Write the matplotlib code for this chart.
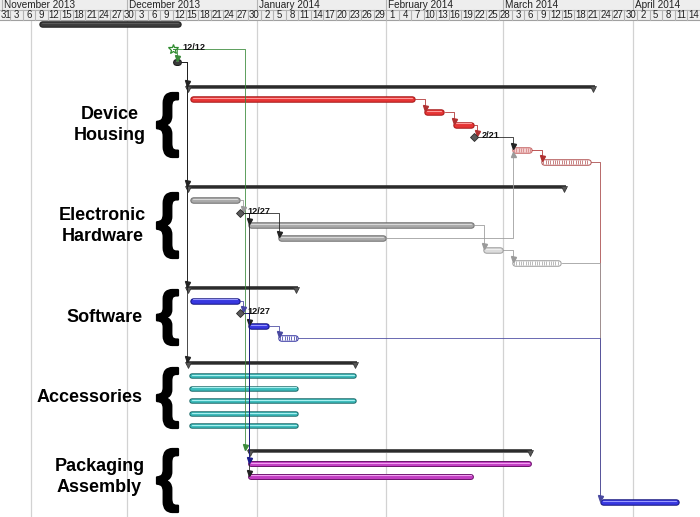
import numpy as np
import matplotlib
matplotlib.use("Agg")
import matplotlib.pyplot as plt
from matplotlib.patches import Rectangle, PathPatch
from matplotlib.textpath import TextPath
from matplotlib.font_manager import FontProperties
from matplotlib.transforms import Affine2D

# ---------------- data ----------------
ORIGIN = "2013-11-01"
timeline_start = "2013-10-31"
timeline_end = "2014-04-17"
month_starts = ["2013-11-01", "2013-12-01", "2014-01-01", "2014-02-01", "2014-03-01", "2014-04-01"]
month_labels = ["November 2013", "December 2013", "January 2014", "February 2014", "March 2014", "April 2014"]
grid_dates = ["2013-11-08", "2013-12-01", "2014-01-01", "2014-02-01", "2014-03-01", "2014-04-01"]

project_bar = ("2013-11-10", "2013-12-14")
kickoff_milestone = "2013-12-12"
kickoff_label = "12/12"
kickoff_task = ("2013-12-12", "2013-12-14")

group_names = ["Device\nHousing", "Electronic\nHardware", "Software", "Accessories", "Packaging\nAssembly"]

dh_summary = ("2013-12-15", "2014-03-23")
dh_start = ["2013-12-16", "2014-02-10", "2014-02-17"]
dh_end = ["2014-02-08", "2014-02-15", "2014-02-22"]
dh_milestone = "2014-02-22"
dh_milestone_label = "2/21"
dh_hatch_start = ["2014-03-03", "2014-03-10"]
dh_hatch_end = ["2014-03-08", "2014-03-22"]

eh_summary = ("2013-12-15", "2014-03-16")
eh_start = ["2013-12-16", "2013-12-30", "2014-01-06"]
eh_end = ["2013-12-28", "2014-02-22", "2014-02-01"]
eh_milestone = "2013-12-28"
eh_milestone_label = "12/27"
eh_pale = ("2014-02-24", "2014-03-01")
eh_hatch = ("2014-03-03", "2014-03-15")

sw_summary = ("2013-12-15", "2014-01-11")
sw_start = ["2013-12-16", "2013-12-30"]
sw_end = ["2013-12-28", "2014-01-04"]
sw_milestone = "2013-12-28"
sw_milestone_label = "12/27"
sw_hatch = ("2014-01-06", "2014-01-11")

ac_summary = ("2013-12-15", "2014-01-25")
ac_start = ["2013-12-16", "2013-12-16", "2013-12-16", "2013-12-16", "2013-12-16"]
ac_end = ["2014-01-25", "2014-01-11", "2014-01-25", "2014-01-11", "2014-01-11"]

pk_summary = ("2013-12-30", "2014-03-08")
pk_start = ["2013-12-30", "2013-12-30"]
pk_end = ["2014-03-08", "2014-02-22"]

final_task = ("2014-03-24", "2014-04-12")

# ---------------- helpers ----------------
W, H = 700, 517
DPI = 100


def d(s):
    return float((np.datetime64(s) - np.datetime64(ORIGIN)).astype(int))


PX_PER_DAY = 4.18
X0_PX = 1.6  # pixel position of origin
ROW_Y0, ROW_H = 24.0, 12.57


def ry(r):
    return ROW_Y0 + ROW_H * r


def px2day(px):
    return (px - X0_PX) / PX_PER_DAY


fig = plt.figure(figsize=(W / DPI, H / DPI), dpi=DPI)
ax = fig.add_axes([0, 0, 1, 1])
ax.set_xlim(px2day(0), px2day(W))
ax.set_ylim(H, 0)
ax.axis("off")

LW = 0.72  # points per pixel
FONT = "Liberation Sans"

# ---------------- header ----------------
t0, t1 = d(timeline_start) - 3, d(timeline_end)
ax.add_patch(Rectangle((t0, 0), t1 - t0, 19.5, fc="#eeeeee", ec="none", zorder=1))
ax.plot([t0, t1], [9.5, 9.5], color="#b4b4b4", lw=0.8, zorder=2)
ax.plot([t0, t1], [19.5, 19.5], color="#a0a0a0", lw=0.8, zorder=2)
for ms, ml in zip(month_starts, month_labels):
    x = d(ms)
    ax.plot([x, x], [0, 9.5], color="#b4b4b4", lw=0.8, zorder=2)
    ax.text(x + 0.5, 5.0, ml, fontsize=7.2, family=FONT, color="#222222",
            ha="left", va="center", zorder=3)
cells = np.arange(np.datetime64(timeline_start), np.datetime64(timeline_end), np.timedelta64(3, "D"))
for i, c in enumerate(cells):
    x = float((c - np.datetime64(ORIGIN)).astype(int))
    ax.plot([x, x], [9.5, 19.5], color="#b4b4b4", lw=0.8, zorder=2)
    day = int(str(c)[8:10])
    if i == 0:
        ax.text(px2day(0.5), 14.8, str(day), fontsize=6.9, family=FONT, color="#222222",
                ha="left", va="center", zorder=3)
    else:
        ax.text(x + 1.5, 14.8, str(day), fontsize=6.9, family=FONT, color="#222222",
                ha="center", va="center", zorder=3)

# gridlines
for g in grid_dates:
    ax.plot([d(g), d(g)], [19.5, H], color="#d2d2d2", lw=0.9, zorder=0)

# ---------------- drawing helpers ----------------


def bar(s, e, r, fill, edge, hi, h=6.5):
    y = ry(r)
    rad = (h / 2) / PX_PER_DAY
    xs = [d(s) + rad, d(e) - rad]
    ax.plot(xs, [y, y], lw=h * LW, color=edge, solid_capstyle="round", zorder=4)
    ax.plot(xs, [y, y], lw=(h - 2) * LW, color=fill, solid_capstyle="round", zorder=4)
    ax.plot(xs, [y - 1.1, y - 1.1], lw=1.1 * LW, color=hi, solid_capstyle="round", zorder=4)


def hatch_bar(s, e, r, edge, inner, stripe, h=6.5):
    y = ry(r)
    rad = (h / 2) / PX_PER_DAY
    xs = [d(s) + rad, d(e) - rad]
    ax.plot(xs, [y, y], lw=h * LW, color=edge, solid_capstyle="round", zorder=4)
    ax.plot(xs, [y, y], lw=(h - 2) * LW, color=inner, solid_capstyle="round", zorder=4)
    xv = np.arange(d(s) + 0.6, d(e) - 0.4, 0.55)
    ax.vlines(xv, y - 2.0, y + 2.0, color=stripe, lw=0.6, zorder=4)


def summary(s, e, r):
    y = ry(r)
    ax.plot([d(s), d(e)], [y, y], lw=3.6 * LW, color="#2b2b2b", solid_capstyle="butt", zorder=4)
    ax.plot([d(s), d(e)], [y + 1.0, y + 1.0], lw=1.0 * LW, color="#6a6a6a", zorder=4)
    ax.plot([d(s) + 0.5, d(e) - 0.5], [y + 2.0, y + 2.0], ls="none", marker="v", ms=3.8,
            color="#555555", mec="#333333", mew=0.5, zorder=4)


def milestone(x, r, label):
    y = ry(r)
    ax.plot([d(x)], [y], marker="D", ms=4.2, color="#5a5a5a", mec="#2a2a2a", mew=0.6, zorder=6)
    ax.text(d(x) + 1.9, y - 1.5, label, fontsize=6.6, family=FONT, weight="bold",
            color="#111111", ha="left", va="center", zorder=7)


def dep(x0, r0, x1, r1, color, up=False, arrow=True):
    y0 = ry(r0)
    y1 = ry(r1) + (4.0 if up else -4.0)
    ax.plot([x0, x1, x1], [y0, y0, y1], color=color, lw=0.8 * LW, zorder=5)
    if arrow:
        ax.plot([x1], [y1], marker="^" if up else "v", ms=3.6, color=color, zorder=5)


# ---------------- colours ----------------
RED = ("#e63535", "#a61515", "#ff9a9a")
GRAY = ("#a9a9a9", "#6e6e6e", "#d8d8d8")
BLUE = ("#3838e0", "#12127e", "#9a9aff")
CYAN = ("#3cbcbc", "#1a6a6a", "#a8f0f0")
MAG = ("#c23ec2", "#701670", "#f0a0f0")
DARK = "#222222"

# ---------------- top rows ----------------
bar(project_bar[0], project_bar[1], 0, "#3c3c3c", "#1c1c1c", "#5a5a5a", h=6.5)
bar(kickoff_task[0], kickoff_task[1], 3, "#3a3a3a", "#1a1a1a", "#6a6a6a", h=7)
ax.plot([d(kickoff_milestone)], [ry(2)], marker="*", ms=7.5, mfc="none", mec="#2e8b2e", mew=0.9, zorder=6)
ax.text(d(kickoff_milestone) + 2.2, ry(2) - 1.5, kickoff_label, fontsize=6.6, family=FONT,
        weight="bold", color="#111111", ha="left", va="center", zorder=7)

# ---------------- groups ----------------
summary(*dh_summary, 5)
for i in range(3):
    bar(dh_start[i], dh_end[i], 6 + i, *RED)
milestone(dh_milestone, 9, dh_milestone_label)
hatch_bar(dh_hatch_start[0], dh_hatch_end[0], 10, "#c46060", "#f4d0d0", "#d88888")
hatch_bar(dh_hatch_start[1], dh_hatch_end[1], 11, "#b05050", "#ffffff", "#c07070")

summary(*eh_summary, 13)
bar(eh_start[0], eh_end[0], 14, *GRAY)
milestone(eh_milestone, 15, eh_milestone_label)
bar(eh_start[1], eh_end[1], 16, *GRAY)
bar(eh_start[2], eh_end[2], 17, *GRAY)
bar(eh_pale[0], eh_pale[1], 18, "#dcdcdc", "#9c9c9c", "#eeeeee")
hatch_bar(eh_hatch[0], eh_hatch[1], 19, "#9a9a9a", "#ffffff", "#b0b0b0")

summary(*sw_summary, 21)
bar(sw_start[0], sw_end[0], 22, *BLUE)
milestone(sw_milestone, 23, sw_milestone_label)
bar(sw_start[1], sw_end[1], 24, *BLUE)
hatch_bar(sw_hatch[0], sw_hatch[1], 25, "#3030a0", "#ffffff", "#5050b0")

summary(*ac_summary, 27)
for i in range(5):
    bar(ac_start[i], ac_end[i], 28 + i, *CYAN, h=5.5)

summary(*pk_summary, 34)
bar(pk_start[0], pk_end[0], 35, *MAG, h=6)
bar(pk_start[1], pk_end[1], 36, *MAG, h=6)

bar(final_task[0], final_task[1], 38, *BLUE, h=6.5)

# ---------------- dependencies ----------------
GREEN = "#3a8a3a"
REDL = "#a84848"
GRAYL = "#9a9a9a"
BLUEL = "#4848a0"

# kickoff task -> group summaries
for r in [5, 13, 21, 27]:
    dep(d(kickoff_task[1]), 3, d(dh_summary[0]) + 0.3, r, DARK)
# kickoff milestone
dep(d(kickoff_milestone), 2, d(kickoff_task[0]) + 1.0, 3, GREEN)
dep(d(kickoff_milestone), 2, d(pk_summary[0]) - 0.8, 34, GREEN)

# device housing chain
dep(d(dh_end[0]), 6, d(dh_start[1]) + 0.3, 7, "#b03030")
dep(d(dh_end[1]), 7, d(dh_start[2]) + 0.3, 8, "#b03030")
dep(d(dh_end[2]), 8, d(dh_milestone) + 0.8, 9, "#b03030")
dep(d(dh_milestone), 9, d(dh_hatch_start[0]) + 0.3, 10, DARK)
dep(d(dh_hatch_end[0]), 10, d(dh_hatch_start[1]) + 0.3, 11, "#b03030")
dep(d(dh_hatch_end[1]), 11, d(final_task[0]) + 0.1, 38, REDL, arrow=False)

# electronic hardware chain
dep(d(eh_end[0]), 14, d(eh_end[0]) + 0.8, 15, GRAYL)
dep(d(eh_milestone), 15, d(eh_start[1]) + 0.3, 16, DARK)
dep(d(eh_milestone), 15, d(eh_start[2]) + 0.3, 17, DARK)
dep(d(eh_end[1]), 16, d(eh_pale[0]) + 0.3, 18, GRAYL)
dep(d(eh_pale[1]), 18, d(eh_hatch[0]) + 0.3, 19, GRAYL)
dep(d(eh_end[2]), 17, d(dh_hatch_start[0]) + 0.3, 10, GRAYL, up=True)
dep(d(eh_hatch[1]), 19, d(final_task[0]) + 0.1, 38, GRAYL, arrow=False)

# software chain
dep(d(sw_end[0]), 22, d(sw_end[0]) + 0.8, 23, BLUEL)
dep(d(sw_milestone), 23, d(sw_start[1]) + 0.3, 24, DARK)
dep(d(sw_end[1]), 24, d(sw_hatch[0]) + 0.3, 25, BLUEL)
dep(d(sw_hatch[1]), 25, d(final_task[0]) + 0.1, 38, BLUEL)

# into packaging
dep(d(eh_milestone), 15, d(pk_start[1]) + 0.3, 36, DARK)
dep(d(sw_milestone), 23, d(pk_start[0]) + 0.3, 35, "#1a1a8a")

# ---------------- labels and braces ----------------
label_pos = [(110, 125), (102.5, 226), (104.5, 317), (90, 397), (99.5, 477)]
brace_spans = [(93, 157), (193, 258), (290, 345), (368, 428), (449, 512)]

fp = FontProperties(family=FONT, weight="bold")
tp = TextPath((0, 0), "{", size=100, prop=fp)
bb = tp.get_extents()

for name, (lx, ly), (yt, yb) in zip(group_names, label_pos, brace_spans):
    ax.text(px2day(lx), ly, name, fontsize=13, family=FONT, weight="bold",
            ha="center", va="center", multialignment="center", linespacing=1.25,
            color="black", zorder=7)
    bx0, bx1 = 157, 178
    sx = (bx1 - bx0) / bb.width
    sy = (yb - yt) / bb.height
    tr = Affine2D().translate(-bb.x0, -bb.y0).scale(sx, sy).translate(bx0, H - yb)
    fig.add_artist(PathPatch(tp, transform=tr, fc="black", ec="black", lw=1.6,
                             joinstyle="round", zorder=7))

fig.savefig("out.png", dpi=DPI)
